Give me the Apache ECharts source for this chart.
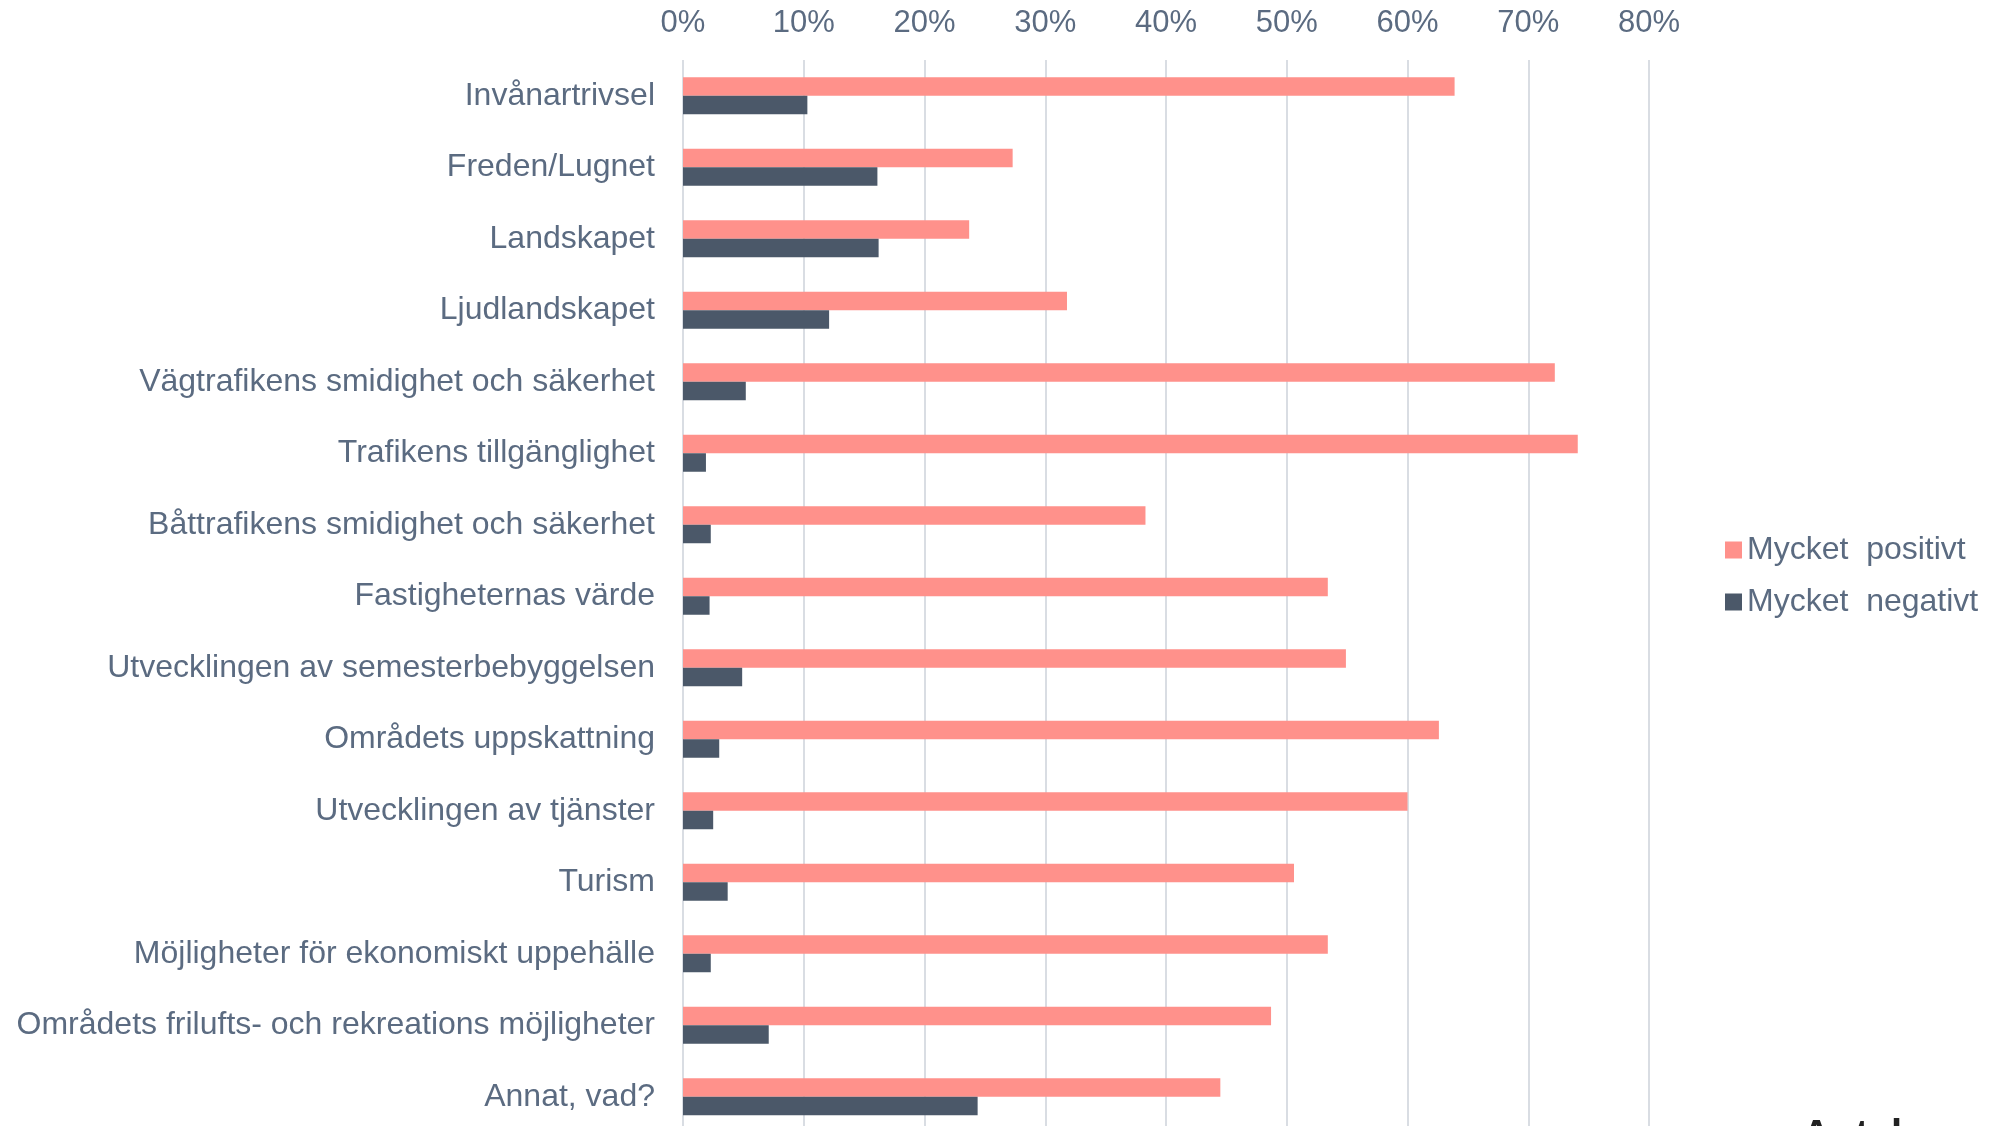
<!DOCTYPE html>
<html>
<head>
<meta charset="utf-8">
<script src="https://cdn.jsdelivr.net/npm/echarts@6/dist/echarts.min.js"></script>
<style>
  html, body { margin: 0; padding: 0; background: #fff; overflow: hidden; }
  /* lite högre än fönstret så att nedersta raden inte trycks ihop */
  #chart { width: 2006px; height: 1150px; }
</style>
</head>
<body>
<div id="chart"></div>
<script>
// kategorier, uppifrån och ned
const categories = [
  'Invånartrivsel',
  'Freden/Lugnet',
  'Landskapet',
  'Ljudlandskapet',
  'Vägtrafikens smidighet och säkerhet',
  'Trafikens tillgänglighet',
  'Båttrafikens smidighet och säkerhet',
  'Fastigheternas värde',
  'Utvecklingen av semesterbebyggelsen',
  'Områdets uppskattning',
  'Utvecklingen av tjänster',
  'Turism',
  'Möjligheter för ekonomiskt uppehälle',
  'Områdets frilufts- och rekreations möjligheter',
  'Annat, vad?'
]
// andel i procent
const positiveValues = [63.9, 27.3, 23.7, 31.8, 72.2, 74.1, 38.3, 53.4, 54.9, 62.6, 60.0, 50.6, 53.4, 48.7, 44.5]
const negativeValues = [10.3, 16.1, 16.2, 12.1, 5.2, 1.9, 2.3, 2.2, 4.9, 3.0, 2.5, 3.7, 2.3, 7.1, 24.4]
const seriesNames = ['Mycket  positivt', 'Mycket  negativt']
const axisMax = 80
const axisStep = 10

const textColor = '#5b6b81'
const fontFamily = 'Liberation Sans, Arial, sans-serif'

const chart = echarts.init(document.getElementById('chart'), null, { renderer: 'canvas' })

const option = {
  animation: false,
  backgroundColor: '#ffffff',
  textStyle: { fontFamily: fontFamily },
  title: {
    text: 'Antal',
    left: 1797,
    top: 1112,
    textStyle: { fontSize: 40, fontWeight: 'bold', color: '#222222', fontFamily: fontFamily }
  },
  legend: {
    orient: 'vertical',
    left: 1720,
    top: 529,
    itemWidth: 17,
    itemHeight: 17,
    itemGap: 20,
    icon: 'rect',
    data: seriesNames,
    textStyle: { fontSize: 32, color: textColor, fontFamily: fontFamily }
  },
  grid: {
    left: 683,
    top: 60,
    width: 966,
    height: 1072.5,
    containLabel: false
  },
  xAxis: {
    type: 'value',
    position: 'top',
    min: 0,
    max: axisMax,
    interval: axisStep,
    axisLine: { show: false },
    axisTick: { show: false },
    axisLabel: {
      formatter: '{value}%',
      fontSize: 31,
      color: textColor,
      margin: 21,
      fontFamily: fontFamily
    },
    splitLine: { lineStyle: { color: '#d9dde3', width: 2 } }
  },
  yAxis: {
    type: 'category',
    inverse: true,
    data: categories,
    axisLine: { show: false },
    axisTick: { show: false },
    axisLabel: {
      fontSize: 32,
      color: textColor,
      margin: 28,
      fontFamily: fontFamily
    }
  },
  series: [
    {
      name: seriesNames[0],
      type: 'bar',
      data: positiveValues,
      barWidth: 18.5,
      barGap: '0%',
      itemStyle: { color: '#ff918b' }
    },
    {
      name: seriesNames[1],
      type: 'bar',
      data: negativeValues,
      barWidth: 18.5,
      barGap: '0%',
      itemStyle: { color: '#4b5869' }
    }
  ]
}

chart.setOption(option)
</script>
</body>
</html>
